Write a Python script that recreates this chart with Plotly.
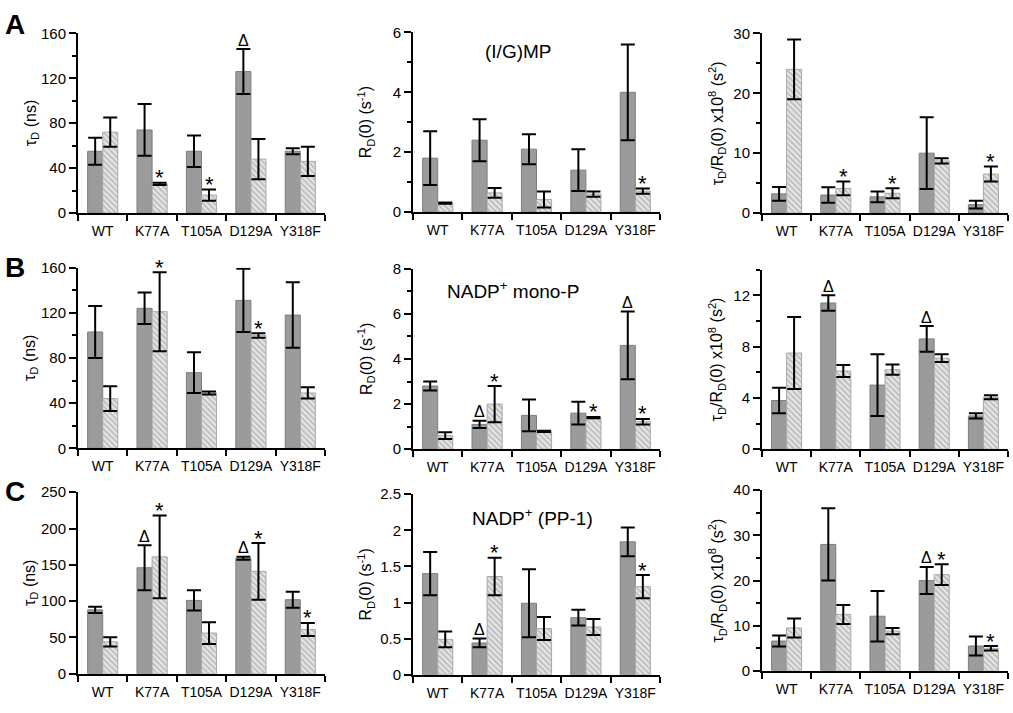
import plotly.graph_objects as go

categories = ["WT", "K77A", "T105A", "D129A", "Y318F"]

# Row A: (I/G)MP
tau_A_1 = [55, 74, 55, 126, 55]
tau_A_1_err = [12, 23, 14, 20, 2.6]
tau_A_2 = [72, 26, 16, 48, 46]
tau_A_2_err = [13, 1, 5, 18, 13]
rd_A_1 = [1.8, 2.4, 2.1, 1.4, 4.0]
rd_A_1_err = [0.9, 0.7, 0.5, 0.7, 1.6]
rd_A_2 = [0.3, 0.64, 0.42, 0.6, 0.7]
rd_A_2_err = [0.02, 0.16, 0.27, 0.09, 0.09]
ratio_A_1 = [3.2, 3.0, 2.7, 10.0, 1.4]
ratio_A_1_err = [1.15, 1.3, 0.9, 6.0, 0.65]
ratio_A_2 = [24.0, 4.1, 3.3, 8.7, 6.5]
ratio_A_2_err = [5.0, 1.15, 0.85, 0.45, 1.25]

# Row B: NADP+ mono-P
tau_B_1 = [103, 124, 67, 131, 118]
tau_B_1_err = [23, 14, 18, 28, 29]
tau_B_2 = [44, 121, 49, 100, 49]
tau_B_2_err = [11, 35, 1.3, 2, 5]
rd_B_1 = [2.8, 1.1, 1.5, 1.6, 4.6]
rd_B_1_err = [0.2, 0.16, 0.7, 0.5, 1.5]
rd_B_2 = [0.6, 2.0, 0.79, 1.4, 1.22]
rd_B_2_err = [0.15, 0.8, 0.03, 0.03, 0.12]
ratio_B_1 = [3.8, 11.4, 5.0, 8.6, 2.6]
ratio_B_1_err = [1.0, 0.6, 2.4, 1.0, 0.2]
ratio_B_2 = [7.5, 6.1, 6.2, 7.1, 4.05]
ratio_B_2_err = [2.8, 0.47, 0.4, 0.3, 0.15]

# Row C: NADP+ (PP-1)
tau_C_1 = [88, 146, 101, 159, 102]
tau_C_1_err = [4.3, 31, 14, 2, 11]
tau_C_2 = [44, 161, 56, 141, 61]
tau_C_2_err = [6.3, 57, 15, 39, 9]
rd_C_1 = [1.4, 0.44, 0.99, 0.79, 1.84]
rd_C_1_err = [0.3, 0.06, 0.47, 0.11, 0.2]
rd_C_2 = [0.49, 1.36, 0.64, 0.66, 1.22]
rd_C_2_err = [0.11, 0.26, 0.16, 0.11, 0.16]
ratio_C_1 = [6.6, 28, 12.1, 20, 5.5]
ratio_C_1_err = [1.2, 8, 5.6, 3, 2.1]
ratio_C_2 = [9.5, 12.5, 8.8, 21.3, 5.0]
ratio_C_2_err = [2.1, 2.1, 0.7, 2.3, 0.5]

# significance marks (series 1 / series 2)
marks_A1_1 = ["", "", "", "Δ", ""]
marks_A1_2 = ["", "*", "*", "", ""]
marks_A2_1 = ["", "", "", "", ""]
marks_A2_2 = ["", "", "", "", "*"]
marks_A3_1 = ["", "", "", "", ""]
marks_A3_2 = ["", "*", "*", "", "*"]
marks_B1_1 = ["", "", "", "", ""]
marks_B1_2 = ["", "*", "", "*", ""]
marks_B2_1 = ["", "Δ", "", "", "Δ"]
marks_B2_2 = ["", "*", "", "*", "*"]
marks_B3_1 = ["", "Δ", "", "Δ", ""]
marks_B3_2 = ["", "", "", "", ""]
marks_C1_1 = ["", "Δ", "", "Δ", ""]
marks_C1_2 = ["", "*", "", "*", "*"]
marks_C2_1 = ["", "Δ", "", "", ""]
marks_C2_2 = ["", "*", "", "", "*"]
marks_C3_1 = ["", "", "", "Δ", ""]
marks_C3_2 = ["", "", "", "*", "*"]

W, H = 1013, 713
FONT = "Liberation Sans, Arial, sans-serif"
BARGAP = 0.39

tau_title = "τ<sub>D</sub> (ns)"
rd_title = "R<sub>D</sub>(0) (s<sup>-1</sup>)"
ratio_title = "τ<sub>D</sub>/R<sub>D</sub>(0) x10<sup>8</sup> (s<sup>2</sup>)"

panels = [
    # (s1, e1, s2, e2, m1, m2, xpix, ypix(top,bottom), range, dtick, minor, title)
    (tau_A_1, tau_A_1_err, tau_A_2, tau_A_2_err, marks_A1_1, marks_A1_2, (78, 325), (25, 209), 160, 40, 20, tau_title),
    (rd_A_1, rd_A_1_err, rd_A_2, rd_A_2_err, marks_A2_1, marks_A2_2, (413, 660), (24, 208), 6, 2, 1, rd_title),
    (ratio_A_1, ratio_A_1_err, ratio_A_2, ratio_A_2_err, marks_A3_1, marks_A3_2, (762, 1008), (25, 209), 30, 10, 5, ratio_title),
    (tau_B_1, tau_B_1_err, tau_B_2, tau_B_2_err, marks_B1_1, marks_B1_2, (78, 325), (265, 450), 160, 40, 20, tau_title),
    (rd_B_1, rd_B_1_err, rd_B_2, rd_B_2_err, marks_B2_1, marks_B2_2, (413, 660), (266, 451), 8, 2, 1, rd_title),
    (ratio_B_1, ratio_B_1_err, ratio_B_2, ratio_B_2_err, marks_B3_1, marks_B3_2, (762, 1008), (267, 451), 14, 4, 2, ratio_title),
    (tau_C_1, tau_C_1_err, tau_C_2, tau_C_2_err, marks_C1_1, marks_C1_2, (78, 325), (495, 681), 250, 50, None, tau_title),
    (rd_C_1, rd_C_1_err, rd_C_2, rd_C_2_err, marks_C2_1, marks_C2_2, (413, 660), (497, 682), 2.5, 0.5, None, rd_title),
    (ratio_C_1, ratio_C_1_err, ratio_C_2, ratio_C_2_err, marks_C3_1, marks_C3_2, (762, 1008), (493, 678), 40, 10, 5, ratio_title),
]

title_x = {78: 31, 413: 366, 762: 717}

fig = go.Figure()
annotations = []
layout = {}
for k, (s1, e1, s2, e2, m1, m2, xp, yp, ymax, dtick, minor, ytitle) in enumerate(panels):
    n = k + 1
    xa = "x" if n == 1 else f"x{n}"
    ya = "y" if n == 1 else f"y{n}"
    xkey = "xaxis" if n == 1 else f"xaxis{n}"
    ykey = "yaxis" if n == 1 else f"yaxis{n}"
    fig.add_trace(go.Bar(
        x=categories, y=s1, xaxis=xa, yaxis=ya, offsetgroup="1",
        marker=dict(color="#9b9b9b", line=dict(color="#7d7d7d", width=1)),
        error_y=dict(type="data", array=e1, color="black", thickness=2, width=7),
        showlegend=False,
    ))
    fig.add_trace(go.Bar(
        x=categories, y=s2, xaxis=xa, yaxis=ya, offsetgroup="2",
        marker=dict(color="#dcdcdc", line=dict(color="#a8a8a8", width=1),
                    pattern=dict(shape="\\", fgcolor="#8f8f8f", bgcolor="#e6e6e6",
                                 size=4, solidity=0.45)),
        error_y=dict(type="data", array=e2, color="black", thickness=2, width=7),
        showlegend=False,
    ))
    layout[xkey] = dict(
        domain=[xp[0] / W, xp[1] / W], anchor=ya, type="category",
        range=[-0.5, 4.5], showline=True, linecolor="black", linewidth=2,
        ticks="outside", tickson="boundaries", ticklen=6, tickwidth=2,
        tickcolor="black", showgrid=False, zeroline=False, tickangle=0,
        ticklabeloverflow="allow", ticklabelstandoff=4,
        tickfont=dict(family=FONT, size=14, color="black"),
    )
    ydict = dict(
        domain=[1 - yp[1] / H, 1 - yp[0] / H], anchor=xa,
        range=[0, ymax], dtick=dtick, tick0=0, showline=True,
        linecolor="black", linewidth=2, ticks="outside", ticklen=7,
        tickwidth=2, tickcolor="black", showgrid=False, zeroline=False,
        tickfont=dict(family=FONT, size=15, color="black"),
    )
    if minor:
        ydict["minor"] = dict(dtick=minor, tick0=0, ticks="outside", ticklen=4,
                              tickwidth=2, tickcolor="black", showgrid=False)
    layout[ykey] = ydict
    annotations.append(dict(
        text=ytitle, textangle=-90, xref="paper", yref="paper",
        x=title_x[xp[0]] / W, y=1 - (yp[0] + yp[1]) / 2 / H,
        xanchor="center", yanchor="middle", showarrow=False,
        font=dict(family=FONT, size=16, color="black"),
    ))
    off = (1 - BARGAP) / 4
    for i in range(len(categories)):
        for vals, errs, marks, sign in ((s1, e1, m1, -1), (s2, e2, m2, 1)):
            mk = marks[i]
            if not mk:
                continue
            if mk == "*":
                font = dict(family=FONT, size=22, color="black")
                ysh = 5
            else:
                font = dict(family=FONT, size=16, color="black")
                ysh = 9
            annotations.append(dict(
                text=mk, xref=xa, yref=ya, x=i + sign * off,
                y=vals[i] + errs[i], yshift=ysh, xanchor="center",
                yanchor="middle", showarrow=False, font=font,
            ))

# panel letters and condition labels
for letter, yy in (("A", 16), ("B", 265), ("C", 494)):
    annotations.append(dict(
        text=f"<b>{letter}</b>", xref="paper", yref="paper", x=15 / W,
        y=1 - yy / H, xanchor="center", yanchor="middle", showarrow=False,
        font=dict(family=FONT, size=28, color="black"),
    ))
for txt, cx, cy in (("(I/G)MP", 518, 44), ("NADP<sup>+</sup> mono-P", 513, 288),
                    ("NADP<sup>+</sup> (PP-1)", 532, 520)):
    annotations.append(dict(
        text=txt, xref="paper", yref="paper", x=cx / W, y=1 - cy / H,
        xanchor="center", yanchor="middle", showarrow=False,
        font=dict(family=FONT, size=19, color="black"),
    ))

fig.update_layout(
    width=W, height=H, margin=dict(l=0, r=0, t=0, b=0),
    paper_bgcolor="white", plot_bgcolor="white",
    barmode="group", bargap=BARGAP, bargroupgap=0,
    annotations=annotations, **layout,
)
fig.write_html(
    "out.html",
    config={"displayModeBar": False},
    post_script="document.body.style.margin='0';document.body.style.overflow='hidden';",
)
